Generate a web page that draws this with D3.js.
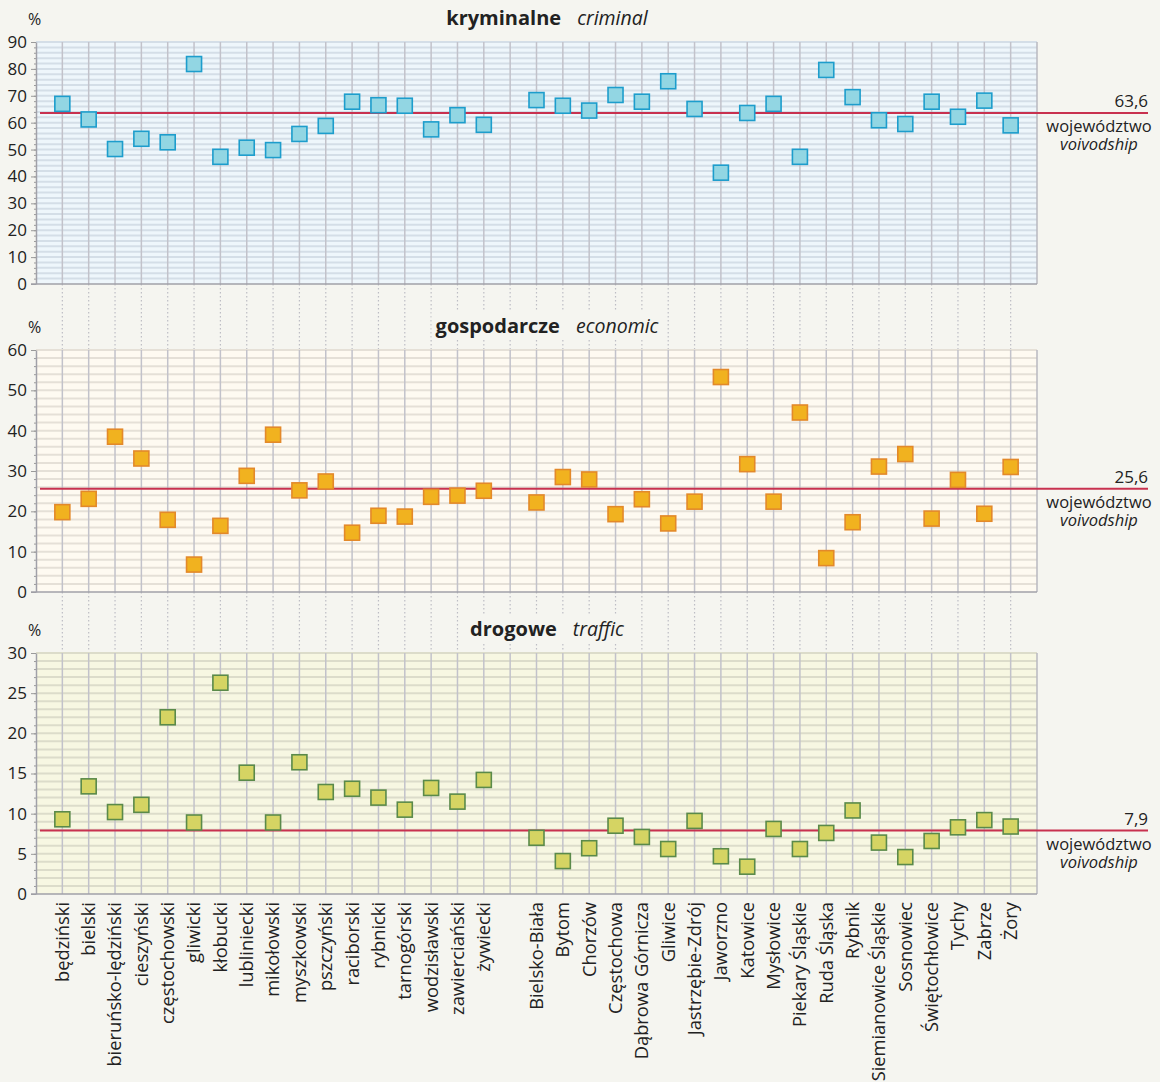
<!DOCTYPE html>
<html>
<head>
<meta charset="utf-8">
<script src="https://d3js.org/d3.v7.min.js"></script>
<style>
  body {margin: 0; background: #f5f5f0;}
  text {font-family: "Open Sans", sans-serif; fill: #222;}
</style>
</head>
<body>
<script>
  // powiaty (districts), then cities with powiat rights
  const powiaty = ["będziński", "bielski", "bieruńsko-lędziński", "cieszyński", "częstochowski",
    "gliwicki", "kłobucki", "lubliniecki", "mikołowski", "myszkowski", "pszczyński", "raciborski",
    "rybnicki", "tarnogórski", "wodzisławski", "zawierciański", "żywiecki"];
  const miasta = ["Bielsko-Biała", "Bytom", "Chorzów", "Częstochowa", "Dąbrowa Górnicza", "Gliwice",
    "Jastrzębie-Zdrój", "Jaworzno", "Katowice", "Mysłowice", "Piekary Śląskie", "Ruda Śląska",
    "Rybnik", "Siemianowice Śląskie", "Sosnowiec", "Świętochłowice", "Tychy", "Zabrze", "Żory"];

  const kryminalne = [67.0, 61.2, 50.2, 54.0, 52.7, 81.8, 47.3, 50.7, 49.8, 55.8, 58.8, 67.8,
    66.5, 66.3, 57.5, 62.8, 59.2,
    68.4, 66.3, 64.5, 70.3, 67.8, 75.4, 65.1, 41.4, 63.6, 67.0, 47.3, 79.6, 69.5, 60.9, 59.5,
    67.8, 62.2, 68.2, 59.0];
  const gospodarcze = [19.8, 23.1, 38.5, 33.1, 17.9, 6.8, 16.4, 28.8, 39.0, 25.2, 27.4, 14.7,
    18.9, 18.7, 23.6, 23.9, 25.1,
    22.2, 28.5, 27.9, 19.3, 23.0, 17.0, 22.4, 53.3, 31.7, 22.4, 44.5, 8.4, 17.3, 31.1, 34.2,
    18.2, 27.8, 19.4, 31.0];
  const drogowe = [9.3, 13.4, 10.2, 11.1, 22.0, 8.9, 26.3, 15.1, 8.9, 16.4, 12.7, 13.1,
    12.0, 10.5, 13.2, 11.5, 14.2,
    7.0, 4.1, 5.7, 8.5, 7.1, 5.6, 9.1, 4.7, 3.4, 8.1, 5.6, 7.6, 10.4, 6.4, 4.6,
    6.6, 8.3, 9.2, 8.4];

  const srednie = [63.6, 25.6, 7.9];
  const srednieTxt = ["63,6", "25,6", "7,9"];
  const tytulyPl = ["kryminalne", "gospodarcze", "drogowe"];
  const tytulyEn = ["criminal", "economic", "traffic"];
  const yMax = [90, 60, 30];
  const yMajor = [10, 10, 5];
  const yMinor = [2, 2, 1];

  const width = 1160, height = 1082;
  const left = 36, right = 1037;

  const layout = [
    {top: 42, bottom: 284, bg: "#eef6fb", grid: "#d4dee7", fill: "#92d6e3", stroke: "#1d9dcc"},
    {top: 350, bottom: 592, bg: "#fefaf1", grid: "#e5e0d7", fill: "#f1b21f", stroke: "#e3892a"},
    {top: 653, bottom: 894, bg: "#f7f7e2", grid: "#dcdcca", fill: "#d5d463", stroke: "#5a8a4a"}
  ];
  const series = [kryminalne, gospodarcze, drogowe];

  const svg = d3.select("body").append("svg")
      .attr("width", width)
      .attr("height", height);

  const slots = powiaty.concat(["_gap"], miasta);
  const cats = powiaty.concat(miasta);
  const x = d3.scalePoint().domain(slots).range([left, right]).padding(1);

  // dotted connectors between panels
  for (let i = 0; i < 2; i++) {
    svg.append("g").selectAll("line")
        .data(slots)
      .enter().append("line")
        .attr("x1", d => x(d)).attr("x2", d => x(d))
        .attr("y1", layout[i].bottom).attr("y2", layout[i + 1].top)
        .attr("stroke", "#bdbdc4")
        .attr("stroke-width", 1.2)
        .attr("stroke-dasharray", "1.5,2.5");
  }

  layout.forEach((p, i) => {
    const y = d3.scaleLinear().domain([0, yMax[i]]).range([p.bottom, p.top]);
    const g = svg.append("g");

    g.append("rect")
        .attr("x", left).attr("y", p.top)
        .attr("width", right - left).attr("height", p.bottom - p.top)
        .attr("fill", p.bg);

    const minorVals = d3.range(yMinor[i], yMax[i] + 0.001, yMinor[i]);
    g.append("g").selectAll("line")
        .data(minorVals)
      .enter().append("line")
        .attr("x1", left).attr("x2", right)
        .attr("y1", d => y(d)).attr("y2", d => y(d))
        .attr("stroke", p.grid)
        .attr("stroke-width", 2);

    g.append("g").selectAll("line")
        .data(slots)
      .enter().append("line")
        .attr("x1", d => x(d)).attr("x2", d => x(d))
        .attr("y1", p.top).attr("y2", p.bottom)
        .attr("stroke", "#c2c2ca")
        .attr("stroke-width", 1.5);

    g.append("line")
        .attr("x1", right).attr("x2", right)
        .attr("y1", p.top).attr("y2", p.bottom)
        .attr("stroke", "#b8b8c0")
        .attr("stroke-width", 1.5);

    // minor ticks
    g.append("g")
        .attr("transform", `translate(${left},0)`)
        .call(d3.axisLeft(y).tickValues(minorVals).tickSize(2).tickFormat(""))
        .call(a => a.select(".domain").remove())
        .call(a => a.selectAll("line").attr("stroke", "#999"));

    // major ticks and labels
    g.append("g")
        .attr("transform", `translate(${left},0)`)
        .call(d3.axisLeft(y).ticks(yMax[i] / yMajor[i]).tickSize(5).tickPadding(4).tickSizeOuter(0))
        .call(a => a.select(".domain").attr("stroke", "#a0a0a8").attr("stroke-width", 1.5))
        .call(a => a.selectAll("line").attr("stroke", "#999"))
        .call(a => a.selectAll("text").style("font-size", "17px").attr("fill", "#222"));

    g.append("line")
        .attr("x1", left - 5).attr("x2", right)
        .attr("y1", p.bottom).attr("y2", p.bottom)
        .attr("stroke", "#a0a0a8")
        .attr("stroke-width", 1.5);

    // voivodship average
    const ay = y(srednie[i]);
    g.append("line")
        .attr("x1", 40).attr("x2", 1148)
        .attr("y1", ay).attr("y2", ay)
        .attr("stroke", "#c8314f")
        .attr("stroke-width", 2);

    g.append("text")
        .attr("x", 1148).attr("y", ay - 6)
        .attr("text-anchor", "end")
        .style("font-size", "17px")
        .text(srednieTxt[i]);
    g.append("text")
        .attr("x", 1099).attr("y", ay + 19)
        .attr("text-anchor", "middle")
        .style("font-size", "16.5px")
        .text("województwo");
    g.append("text")
        .attr("x", 1099).attr("y", ay + 37)
        .attr("text-anchor", "middle")
        .style("font-size", "16.5px")
        .style("font-style", "italic")
        .text("voivodship");

    // markers
    g.append("g").selectAll("rect")
        .data(cats.map((c, k) => ({c, v: series[i][k]})))
      .enter().append("rect")
        .attr("x", d => x(d.c) - 7.5)
        .attr("y", d => y(d.v) - 7.5)
        .attr("width", 15).attr("height", 15)
        .attr("fill", p.fill)
        .attr("stroke", p.stroke)
        .attr("stroke-width", 1.6);

    // title
    const bgRect = svg.append("rect").attr("fill", "#f5f5f0");
    const t = svg.append("text")
        .attr("x", 547).attr("y", p.top - 17)
        .attr("text-anchor", "middle");
    t.append("tspan").style("font-weight", "bold").style("font-size", "20px").text(tytulyPl[i]);
    t.append("tspan").attr("dx", 16).style("font-style", "italic").style("font-size", "19.5px").text(tytulyEn[i]);
    const bb = t.node().getBBox();
    bgRect.attr("x", bb.x - 4).attr("y", bb.y).attr("width", bb.width + 8).attr("height", bb.height);

    svg.append("text")
        .attr("x", 28).attr("y", p.top - 17)
        .style("font-size", "16px")
        .text("%");
  });

  // category labels
  svg.append("g").selectAll("text")
      .data(cats)
    .enter().append("text")
      .attr("transform", d => `translate(${x(d)},902) rotate(-90)`)
      .attr("text-anchor", "end")
      .attr("dy", "0.35em")
      .style("font-size", "18.3px")
      .text(d => d);
</script>
</body>
</html>
